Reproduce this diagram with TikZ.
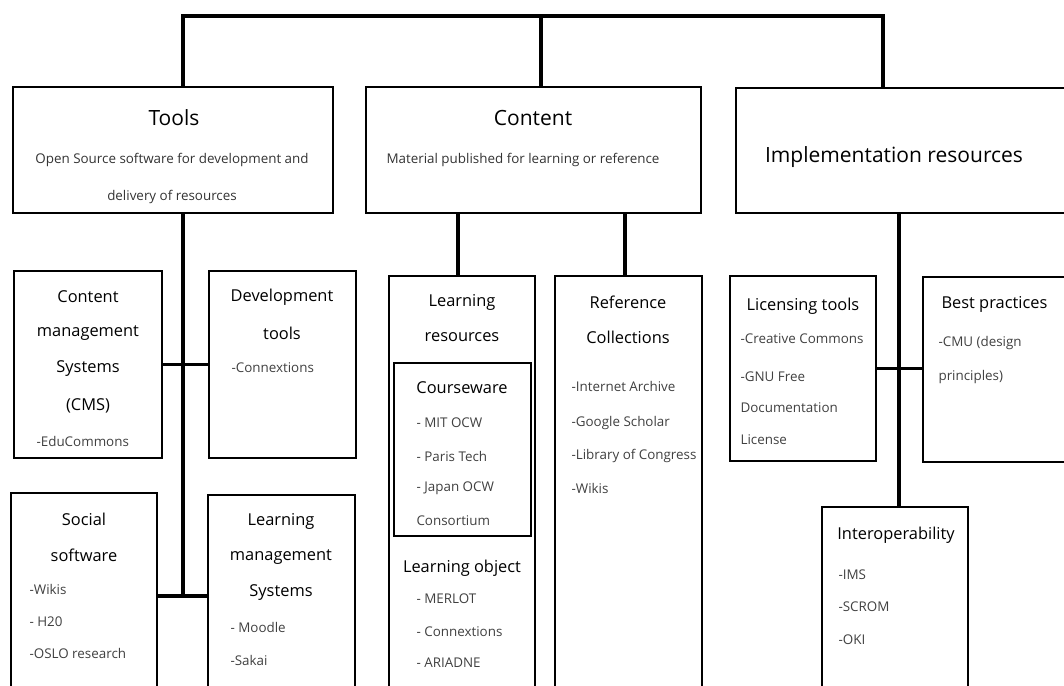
\documentclass[tikz,border=0pt]{standalone}
\usepackage{fontspec}
\setmainfont{Open Sans}
\usetikzlibrary{fit}
\tikzset{
  box/.style={draw, line width=1.8pt, inner sep=0pt},
  link/.style={line width=3.8pt},
  maintitle/.style={font=\fontsize{21}{24}\selectfont},
  subtitle/.style={font=\fontsize{13.4}{16}\selectfont, text=black!80},
  boxhead/.style={font=\fontsize{16.4}{19}\selectfont},
  boxitem/.style={anchor=west, font=\fontsize{13.4}{16}\selectfont, text=black!75},
}
\begin{document}
\begin{tikzpicture}[x=1pt, y=-1pt]
\useasboundingbox (0,0) rectangle (1064,685);
\clip (0,0) rectangle (1064,685);

% top level boxes
\node[box, fit={(13,87) (333,213)}] (tools) {};
\node[box, fit={(366,87) (701,213)}] (content) {};
\node[box, fit={(736,88) (1080,213)}] (impl) {};

% tools
\node[box, fit={(14,271) (162,458)}] (cms) {};
\node[box, fit={(209,271) (356,458)}] (dev) {};
\node[box, fit={(11,493) (157,700)}] (social) {};
\node[box, fit={(208,495) (355,700)}] (lms) {};

% content
\node[box, fit={(389,276) (535,700)}] (learn) {};
\node[box, fit={(394,363) (531,536)}] (course) {};
\node[box, fit={(555,276) (702,700)}] (refc) {};

% implementation resources
\node[box, fit={(730,276) (876,461)}] (lic) {};
\node[box, fit={(923,277) (1080,462)}] (best) {};
\node[box, fit={(822,507) (968,700)}] (inter) {};

% connectors
\coordinate (topL) at (183,16);
\coordinate (topC) at (541,16);
\coordinate (topR) at (883,16);
\draw[link] (topL |- tools.north) -- (topL) -- (topR) -- (topR |- impl.north);
\draw[link] (topC) -- (topC |- content.north);

\coordinate (stemT) at (183,596);
\draw[link] (stemT |- tools.south) -- (stemT);
\draw[link] (cms.east) -- (cms.east -| dev.west);
\draw[link] (social.east |- stemT) -- (lms.west |- stemT);

\coordinate (stemL) at (458,0);
\coordinate (stemR) at (625,0);
\draw[link] (stemL |- content.south) -- (stemL |- learn.north);
\draw[link] (stemR |- content.south) -- (stemR |- refc.north);

\coordinate (stemI) at (899,0);
\draw[link] (stemI |- impl.south) -- (stemI |- inter.north);
\draw[link] (lic.east) -- (lic.east -| best.west);

% titles
\node[maintitle] (toolsT) at (174,118) {Tools};
\node[subtitle] (toolsS1) at (172,160) {Open Source software for development and};
\node[subtitle] (toolsS2) at (172,197) {delivery of resources};
\node[maintitle] (contentT) at (533,118) {Content};
\node[subtitle] (contentS) at (523,160) {Material published for learning or reference};
\node[maintitle] (implT) at (894,157) {Implementation resources};

% tools column
\node[boxhead] (cmsH1) at (88,297) {Content};
\node[boxhead] (cmsH2) at (88,333) {management};
\node[boxhead] (cmsH3) at (88,369) {Systems};
\node[boxhead] (cmsH4) at (88,406) {(CMS)};
\node[boxitem] (cmsI) at (33,441) {-EduCommons};

\node[boxhead] (devH1) at (282,297) {Development};
\node[boxhead] (devH2) at (282,333) {tools};
\node[boxitem] (devI) at (228,368) {-Connextions};

\node[boxhead] (socialH1) at (84,519) {Social};
\node[boxhead] (socialH2) at (84,555) {software};
\foreach \n/\t/\y in {1/-Wikis/589, 2/- H20/622, 3/-OSLO research/653}
  \node[boxitem] (socialI\n) at (26,\y) {\t};

\node[boxhead] (lmsH1) at (281,521) {Learning};
\node[boxhead] (lmsH2) at (281,557) {management};
\node[boxhead] (lmsH3) at (281,593) {Systems};
\node[boxitem] (lmsI1) at (227,627) {- Moodle};
\node[boxitem] (lmsI2) at (227,660) {-Sakai};

% content column
\node[boxhead] (learnH1) at (462,302) {Learning};
\node[boxhead] (learnH2) at (462,337) {resources};
\node[boxhead] (courseH) at (462,388) {Courseware};
\foreach \n/\t/\y in {1/- MIT OCW/423, 2/- Paris Tech/456, 3/- Japan OCW/488, 4/Consortium/521}
  \node[boxitem] (courseI\n) at (413,\y) {\t};
\node[boxhead] (objH) at (462,568) {Learning object};
\foreach \n/\t/\y in {1/- MERLOT/599, 2/- Connextions/632, 3/- ARIADNE/663}
  \node[boxitem] (objI\n) at (413,\y) {\t};

\node[boxhead] (refcH1) at (628,302) {Reference};
\node[boxhead] (refcH2) at (628,337) {Collections};
\foreach \n/\t/\y in {1/-Internet Archive/386, 2/-Google Scholar/423, 3/-Library of Congress/456, 4/-Wikis/488}
  \node[boxitem] (refcI\n) at (568,\y) {\t};

% implementation column
\node[boxhead] (licH) at (803,306) {Licensing tools};
\foreach \n/\t/\y in {1/-Creative Commons/339, 2/-GNU Free/377, 3/Documentation/408, 4/License/440}
  \node[boxitem] (licI\n) at (737,\y) {\t};

\node[boxhead, anchor=west] (bestH) at (938,304) {Best practices};
\node[boxitem] (bestI1) at (935,343) {-CMU (design};
\node[boxitem] (bestI2) at (935,377) {principles)};

\node[boxhead] (interH) at (896,535) {Interoperability};
\foreach \n/\t/\y in {1/-IMS/575, 2/-SCROM/607, 3/-OKI/640}
  \node[boxitem] (interI\n) at (835,\y) {\t};
\end{tikzpicture}
\end{document}
